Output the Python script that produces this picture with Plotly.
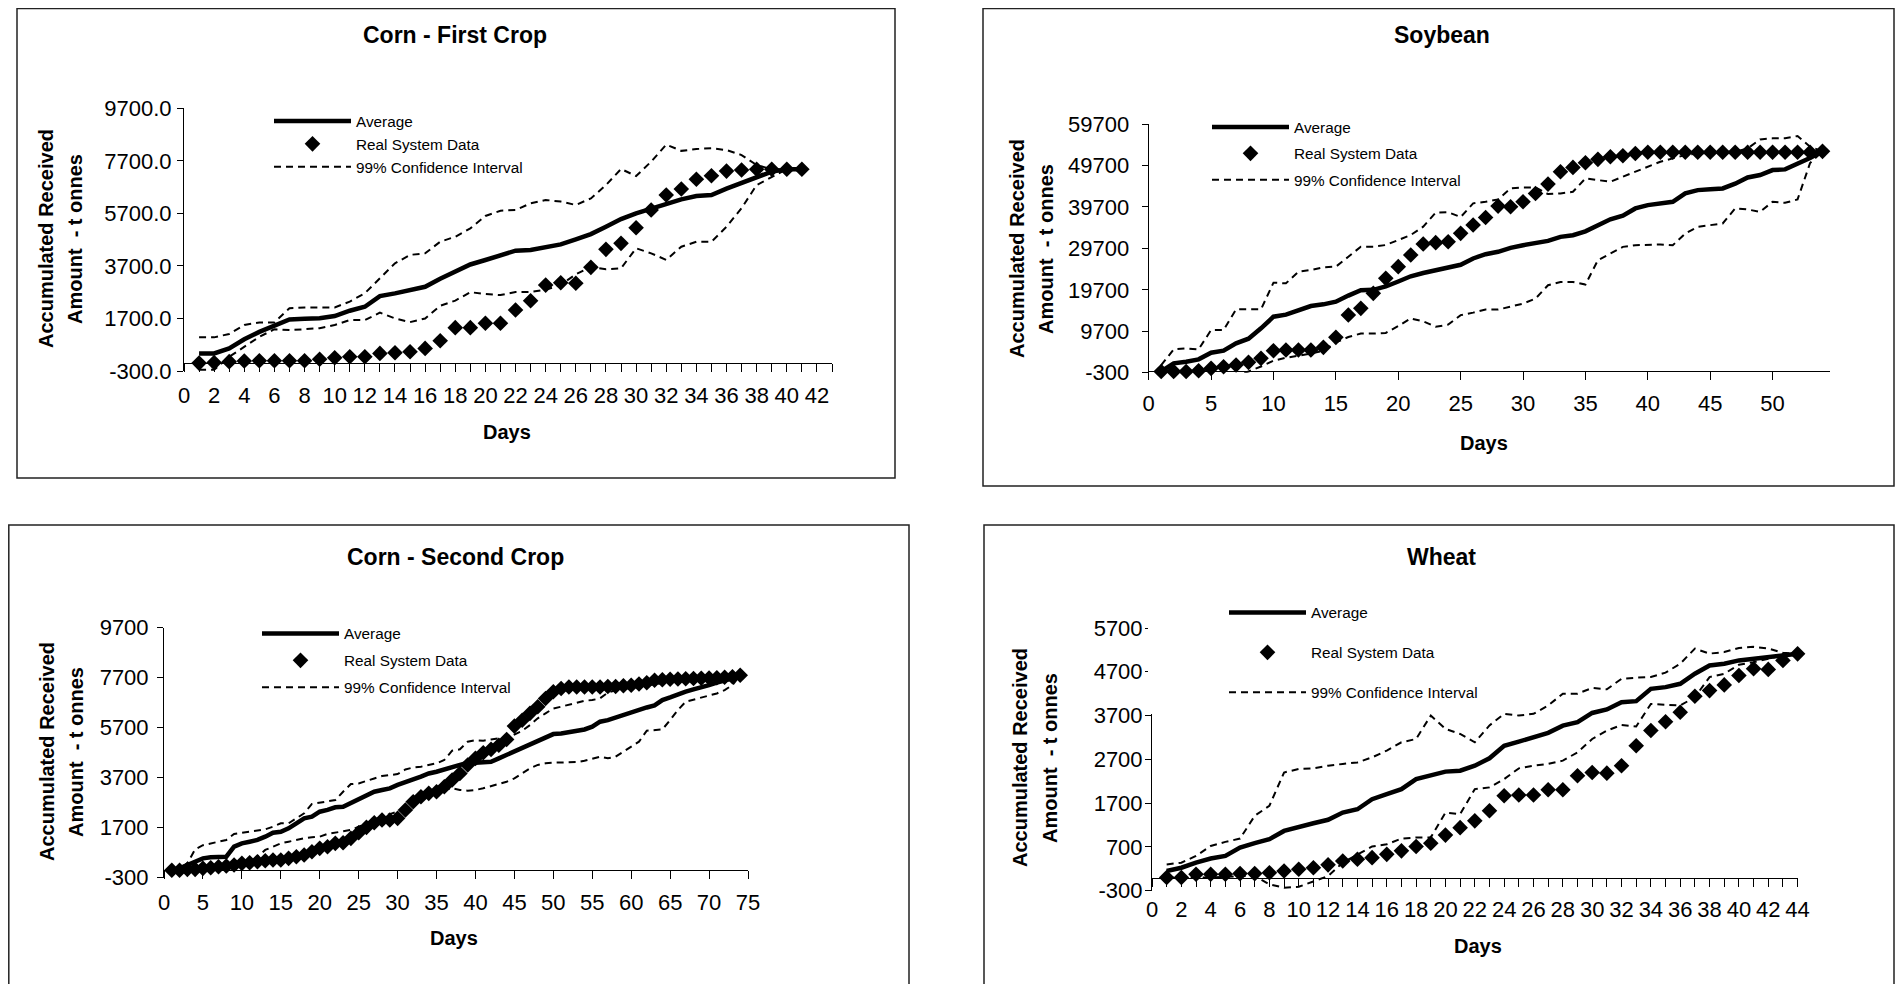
import plotly.graph_objects as go

# ---------------- data ----------------
SERIES_NAMES = ["Average", "Real System Data", "99% Confidence Interval"]
TITLES = ["Corn - First Crop", "Soybean", "Corn - Second Crop", "Wheat"]
X_TITLE = "Days"
Y_TITLE_LINES = ["Accumulated Received", "Amount  - t onnes"]

# Corn - First Crop
CF_DAYS = list(range(1, 42))
CF_AVERAGE = [370, 370, 560, 905, 1190, 1450, 1665, 1690, 1705, 1790,
              1995, 2145, 2550, 2655, 2780, 2905, 3210, 3475, 3755, 3925,
              4115, 4280, 4305, 4430, 4520, 4710, 4910, 5190, 5485, 5700,
              5875, 6080, 6235, 6360, 6400, 6640, 6845, 7060, 7290, 7380, 7380]
CF_REAL = [0, 20, 55, 80, 90, 90, 90, 90, 145, 205,
           245, 245, 370, 395, 435, 560, 850, 1350, 1350, 1520,
           1520, 2020, 2375, 2970, 3060, 3040, 3645, 4330, 4560, 5155,
           5830, 6400, 6630, 7000, 7130, 7310, 7350, 7380, 7380, 7380, 7380]
CF_CI_UPPER = [980, 980, 1110, 1450, 1550, 1550, 2090, 2120, 2120, 2120,
               2340, 2660, 3230, 3800, 4120, 4180, 4620, 4810, 5130, 5600,
               5800, 5830, 6080, 6210, 6150, 6020, 6270, 6780, 7390, 7120,
               7670, 8320, 8080, 8150, 8180, 8110, 7920, 7540, 7380, 7380, 7380]
CF_CI_LOWER = [-250, -250, 240, 630, 1000, 1290, 1260, 1290, 1330, 1450,
               1640, 1640, 1920, 1700, 1560, 1700, 2180, 2380, 2700, 2630,
               2590, 2710, 2710, 2790, 2980, 3380, 3670, 3570, 3610, 4370,
               4180, 3930, 4430, 4620, 4620, 5190, 5900, 6780, 7080, 7380, 7380]
CF_Y_TICKS = [-300, 1700, 3700, 5700, 7700, 9700]
CF_Y_LABELS = ["-300.0", "1700.0", "3700.0", "5700.0", "7700.0", "9700.0"]

# Soybean
SB_DAYS = list(range(1, 55))
SB_AVERAGE = [0, 1950, 2350, 2920, 4530, 5010, 6780, 7900, 10400, 13210,
              13700, 14660, 15790, 16190, 16830, 18300, 19620, 19700, 20500, 21700,
              22960, 23760, 24440, 24850, 25730, 27260, 28290, 28860, 29820, 30460,
              31030, 31510, 32480, 32880, 33800, 35200, 36700, 37600, 39330, 40130,
              40600, 40930, 42950, 43750, 43950, 44160, 45300, 46800, 47400, 48590,
              48750, 50000, 51500, 53100]
SB_REAL = [0, 0, 0, 180, 750, 1150, 1550, 2200, 3160, 5010,
           5170, 5170, 5170, 5810, 8230, 13610, 15220, 18840, 22460, 25280,
           28090, 30750, 31070, 31310, 33320, 35330, 37150, 39890, 39730, 40940,
           42950, 45200, 48190, 49230, 50360, 51170, 51810, 52050, 52600, 52900,
           52900, 52900, 52900, 52900, 52900, 52900, 52900, 52900, 52900, 52900,
           52900, 52900, 52900, 53100]
SB_CI_UPPER = [1500, 5330, 5570, 5330, 9990, 9990, 14980, 14980, 14980, 21420,
               21260, 24070, 24470, 25120, 25280, 27690, 30100, 30100, 30500, 31710,
               32920, 34930, 38300, 38400, 37250, 40550, 40930, 41500, 44160, 44400,
               44400, 42790, 42950, 43350, 46580, 46170, 45770, 46980, 48190, 49400,
               50600, 51400, 52210, 52610, 52780, 53020, 53020, 53820, 55990, 56240,
               56240, 56800, 54230, 53100]
SB_CI_LOWER = [0, -300, -500, -800, -1100, -1400, -1000, 0, 1200, 2600,
               3300, 3800, 4300, 5000, 7000, 8320, 9150, 9150, 9300, 10970,
               12780, 12100, 10770, 11290, 13590, 14190, 14920, 14920, 15570, 16370,
               17580, 20800, 21600, 21600, 20960, 26840, 28450, 30060, 30460, 30630,
               30630, 30460, 33280, 34900, 35300, 35700, 39330, 39080, 38520, 40930,
               40690, 41500, 50260, 53100]
SB_Y_TICKS = [-300, 9700, 19700, 29700, 39700, 49700, 59700]
SB_Y_LABELS = ["-300", "9700", "19700", "29700", "39700", "49700", "59700"]

# Corn - Second Crop
CS_DAYS = list(range(1, 75))
CS_AVERAGE = [0, 75, 210, 340, 475, 515, 540, 540, 940, 1075,
              1140, 1210, 1340, 1500, 1540, 1675, 1875, 2075, 2140, 2340,
              2410, 2515, 2540, 2700, 2835, 2970, 3140, 3210, 3275, 3410,
              3500, 3635, 3740, 3870, 3940, 4030, 4140, 4235, 4300, 4300,
              4300, 4340, 4475, 4610, 4740, 4870, 5030, 5140, 5270, 5445,
              5470, 5510, 5565, 5630, 5740, 5940, 6005, 6110, 6205, 6340,
              6445, 6510, 6590, 6805, 6910, 7045, 7140, 7230, 7340, 7405,
              7500, 7580, 7670, 7800]
CS_REAL = [0, 0, 35, 35, 75, 100, 140, 170, 210, 275,
           300, 340, 380, 410, 410, 475, 540, 610, 740, 875,
           940, 1075, 1100, 1275, 1500, 1715, 1900, 2010, 2010, 2075,
           2410, 2740, 2940, 3075, 3140, 3340, 3610, 3870, 4210, 4475,
           4700, 4835, 5000, 5230, 5765, 6000, 6275, 6540, 6870, 7140,
           7270, 7330, 7330, 7330, 7330, 7330, 7350, 7350, 7380, 7400,
           7450, 7500, 7600, 7620, 7640, 7650, 7660, 7670, 7680, 7690,
           7700, 7720, 7740, 7800]
CS_CI_UPPER = [0, 75, 275, 835, 1000, 1075, 1140, 1210, 1450, 1500,
               1540, 1610, 1635, 1740, 1875, 1875, 2075, 2275, 2650, 2700,
               2740, 2805, 3140, 3445, 3470, 3580, 3670, 3765, 3805, 3845,
               4030, 4110, 4140, 4210, 4275, 4410, 4780, 4835, 5140, 5200,
               5180, 5230, 5270, 5270, 5410, 5580, 5805, 6075, 6275, 6470,
               6540, 6630, 6700, 6780, 6805, 6875, 7100, 7200, 7250, 7300,
               7350, 7400, 7450, 7500, 7550, 7580, 7610, 7640, 7670, 7700,
               7720, 7740, 7760, 7800]
CS_CI_LOWER = [-100, -100, -80, -60, -40, -20, 0, 50, 100, 145,
               275, 540, 810, 940, 1075, 1140, 1210, 1275, 1315, 1340,
               1450, 1500, 1540, 1610, 1740, 1875, 2010, 2140, 2245, 2340,
               2475, 2670, 2805, 2940, 3075, 3210, 3275, 3210, 3180, 3210,
               3275, 3370, 3445, 3540, 3670, 3870, 4075, 4210, 4275, 4300,
               4300, 4300, 4325, 4380, 4475, 4540, 4475, 4540, 4740, 4940,
               5140, 5580, 5605, 5630, 6005, 6410, 6740, 6830, 6910, 7005,
               7070, 7205, 7405, 7800]
CS_Y_TICKS = [-300, 1700, 3700, 5700, 7700, 9700]
CS_Y_LABELS = ["-300", "1700", "3700", "5700", "7700", "9700"]

# Wheat
WH_DAYS = list(range(1, 45))
WH_AVERAGE = [150, 225, 340, 435, 495, 685, 785, 875, 1065, 1160,
              1240, 1320, 1485, 1560, 1790, 1905, 2020, 2250, 2325, 2420,
              2440, 2555, 2725, 3010, 3105, 3200, 3305, 3470, 3550, 3760,
              3840, 4005, 4030, 4310, 4350, 4425, 4655, 4845, 4885, 4960,
              5000, 5035, 5075, 5110]
WH_REAL = [0, 0, 75, 75, 75, 90, 90, 110, 150, 190,
           225, 290, 380, 420, 455, 530, 610, 710, 785, 970,
           1140, 1295, 1525, 1870, 1885, 1885, 2005, 2005, 2325, 2400,
           2385, 2555, 3010, 3360, 3560, 3775, 4140, 4270, 4400, 4615,
           4770, 4755, 4960, 5110]
WH_CI_UPPER = [300, 340, 495, 720, 815, 890, 1410, 1640, 2400, 2480,
               2495, 2555, 2595, 2630, 2745, 2900, 3090, 3165, 3700, 3395,
               3280, 3090, 3475, 3740, 3700, 3740, 3930, 4200, 4200, 4330,
               4300, 4540, 4565, 4580, 4680, 4885, 5230, 5115, 5150, 5245,
               5270, 5230, 5135, 5110]
WH_CI_LOWER = [0, 0, 0, 0, 20, 30, 40, -155, -230, -210,
               -80, 35, 340, 530, 710, 760, 890, 915, 915, 1485,
               1450, 2020, 2060, 2250, 2495, 2555, 2595, 2670, 2860, 3165,
               3355, 3485, 3450, 3965, 3945, 3930, 4120, 4580, 4655, 4860,
               4920, 5000, 5075, 5110]
WH_Y_TICKS = [-300, 700, 1700, 2700, 3700, 4700, 5700]
WH_Y_LABELS = ["-300", "700", "1700", "2700", "3700", "4700", "5700"]

# ---------------- layout geometry ----------------
# The page body keeps its default 8 px margin, so the figure is 16 px smaller
# than the 1903x992 window and page pixel p maps to figure pixel p - 8.
PAGE_OFFSET = 8
W, H = 1903 - 2 * PAGE_OFFSET, 992 - 2 * PAGE_OFFSET
FONT = "Liberation Sans"


def fx(px):
    return (px - PAGE_OFFSET) / W


def fy(py):
    return 1 - (py - PAGE_OFFSET) / H


panels = [
    dict(days=CF_DAYS, avg=CF_AVERAGE, real=CF_REAL, up=CF_CI_UPPER, low=CF_CI_LOWER,
         yt=CF_Y_TICKS, yl=CF_Y_LABELS, xmax=43, xd=2, xminor=1,
         box=(17, 895, 8.6, 478), plot=(184, 832, 108.3, 371),
         title_xy=(455, 35), days_xy=(507, 432), yt_x=(46, 75), yt_y=239,
         legend_xy=(269, 104.5), legend_gap=0, ystand=1),
    dict(days=SB_DAYS, avg=SB_AVERAGE, real=SB_REAL, up=SB_CI_UPPER, low=SB_CI_LOWER,
         yt=SB_Y_TICKS, yl=SB_Y_LABELS, xmax=54.6, xd=5, xminor=None,
         box=(983, 1894, 8.6, 486), plot=(1148.7, 1830, 124, 372.7),
         title_xy=(1442, 35), days_xy=(1484, 443), yt_x=(1017, 1046), yt_y=249,
         legend_xy=(1207, 110.5), legend_gap=3.5, ystand=8),
    dict(days=CS_DAYS, avg=CS_AVERAGE, real=CS_REAL, up=CS_CI_UPPER, low=CS_CI_LOWER,
         yt=CS_Y_TICKS, yl=CS_Y_LABELS, xmax=75, xd=5, xminor=None,
         box=(8.8, 909, 525, 1000), plot=(164, 748, 627.7, 877.7),
         title_xy=(455, 556.5), days_xy=(454, 938), yt_x=(47, 76), yt_y=752,
         legend_xy=(257, 617), legend_gap=4, ystand=4),
    dict(days=WH_DAYS, avg=WH_AVERAGE, real=WH_REAL, up=WH_CI_UPPER, low=WH_CI_LOWER,
         yt=WH_Y_TICKS, yl=WH_Y_LABELS, xmax=44, xd=2, xminor=1,
         box=(984, 1894, 525, 1000), plot=(1152, 1797.6, 628, 890.7),
         title_xy=(1441, 556.5), days_xy=(1478, 946), yt_x=(1020, 1050), yt_y=758,
         legend_xy=(1224, 596), legend_gap=17, ystand=-2),
]

fig = go.Figure()
layout = {}
annotations = []
shapes = []
ci_line = dict(color="black", width=2, dash="7px,5px")
tick_font = dict(family=FONT, size=22, color="black")

for i, p in enumerate(panels, start=1):
    sfx = "" if i == 1 else str(i)
    xa, ya, lg = "x" + sfx, "y" + sfx, "legend" + sfx

    fig.add_trace(go.Scatter(x=p["days"], y=p["avg"], mode="lines", name=SERIES_NAMES[0],
                             line=dict(color="black", width=4.5), xaxis=xa, yaxis=ya,
                             legend=lg, legendgroup=f"avg{i}"))
    fig.add_trace(go.Scatter(x=p["days"], y=p["real"], mode="markers", name=SERIES_NAMES[1],
                             marker=dict(symbol="diamond", size=12, color="black"),
                             cliponaxis=False, xaxis=xa, yaxis=ya,
                             legend=lg, legendgroup=f"real{i}"))
    fig.add_trace(go.Scatter(x=p["days"], y=p["up"], mode="lines", name=SERIES_NAMES[2],
                             line=ci_line, xaxis=xa, yaxis=ya,
                             legend=lg, legendgroup=f"ci{i}"))
    fig.add_trace(go.Scatter(x=p["days"], y=p["low"], mode="lines", name=SERIES_NAMES[2],
                             line=ci_line, xaxis=xa, yaxis=ya, showlegend=False,
                             legend=lg, legendgroup=f"ci{i}"))

    l, r, t, b = p["plot"]
    ydom = [fy(b), fy(t)]
    ymin, ymax = p["yt"][0], p["yt"][-1]
    zero_pos = ydom[0] + (0 - ymin) / (ymax - ymin) * (ydom[1] - ydom[0])

    xaxis = dict(domain=[fx(l), fx(r)], range=[0, p["xmax"]], anchor="free", position=zero_pos,
                 showline=True, linecolor="black", linewidth=1,
                 ticks="outside", ticklen=8, tickcolor="black", tickwidth=1,
                 tick0=0, dtick=p["xd"], showgrid=False, zeroline=False, automargin=False,
                 tickfont=tick_font, ticklabelstandoff=4)
    if p["xminor"]:
        xaxis["minor"] = dict(dtick=p["xminor"], tick0=0, ticks="outside", ticklen=8,
                              tickcolor="black", tickwidth=1, showgrid=False)
    layout["xaxis" + sfx] = xaxis
    layout["yaxis" + sfx] = dict(domain=ydom, range=[ymin, ymax], anchor=xa,
                                 tickvals=p["yt"], ticktext=p["yl"],
                                 showline=True, linecolor="black", linewidth=1,
                                 ticks="outside", ticklen=6, tickcolor="black",
                                 showgrid=False, zeroline=False, automargin=False,
                                 tickfont=tick_font, ticklabelstandoff=p["ystand"])

    lx, ly = p["legend_xy"]
    layout[lg] = dict(x=fx(lx), y=fy(ly), xanchor="left", yanchor="top",
                      bgcolor="rgba(0,0,0,0)", borderwidth=0,
                      font=dict(family=FONT, size=15.3, color="black"),
                      itemwidth=77, tracegroupgap=p["legend_gap"], traceorder="grouped")

    tx, ty = p["title_xy"]
    annotations.append(dict(text=TITLES[i - 1], x=fx(tx), y=fy(ty), xref="paper", yref="paper",
                            xanchor="center", yanchor="middle", showarrow=False,
                            font=dict(family=FONT, size=23, color="black", weight="bold")))
    dx, dy = p["days_xy"]
    annotations.append(dict(text=X_TITLE, x=fx(dx), y=fy(dy), xref="paper", yref="paper",
                            xanchor="center", yanchor="middle", showarrow=False,
                            font=dict(family=FONT, size=20, color="black", weight="bold")))
    for line_text, yx in zip(Y_TITLE_LINES, p["yt_x"]):
        annotations.append(dict(text=line_text, x=fx(yx), y=fy(p["yt_y"]), xref="paper", yref="paper",
                                xanchor="center", yanchor="middle", showarrow=False, textangle=-90,
                                font=dict(family=FONT, size=20, color="black", weight="bold")))

    bx0, bx1, by0, by1 = p["box"]
    shapes.append(dict(type="rect", xref="paper", yref="paper",
                       x0=fx(bx0), x1=fx(bx1), y0=fy(by1), y1=fy(by0),
                       line=dict(color="#222222", width=1.5), fillcolor="rgba(0,0,0,0)", layer="below"))

# white legend area of the wheat chart hides the top of its value axis
shapes.append(dict(type="rect", xref="paper", yref="paper",
                   x0=fx(1148), x1=fx(1158), y0=fy(714), y1=fy(600),
                   line=dict(width=0), fillcolor="white", layer="above"))

fig.update_layout(**layout)
fig.update_layout(width=W, height=H, autosize=False,
                  margin=dict(l=0, r=0, t=0, b=0, pad=0, autoexpand=False),
                  paper_bgcolor="white", plot_bgcolor="white",
                  showlegend=True, annotations=annotations, shapes=shapes,
                  font=dict(family=FONT, color="black"))

fig.write_html("out.html", config={"displayModeBar": False})
